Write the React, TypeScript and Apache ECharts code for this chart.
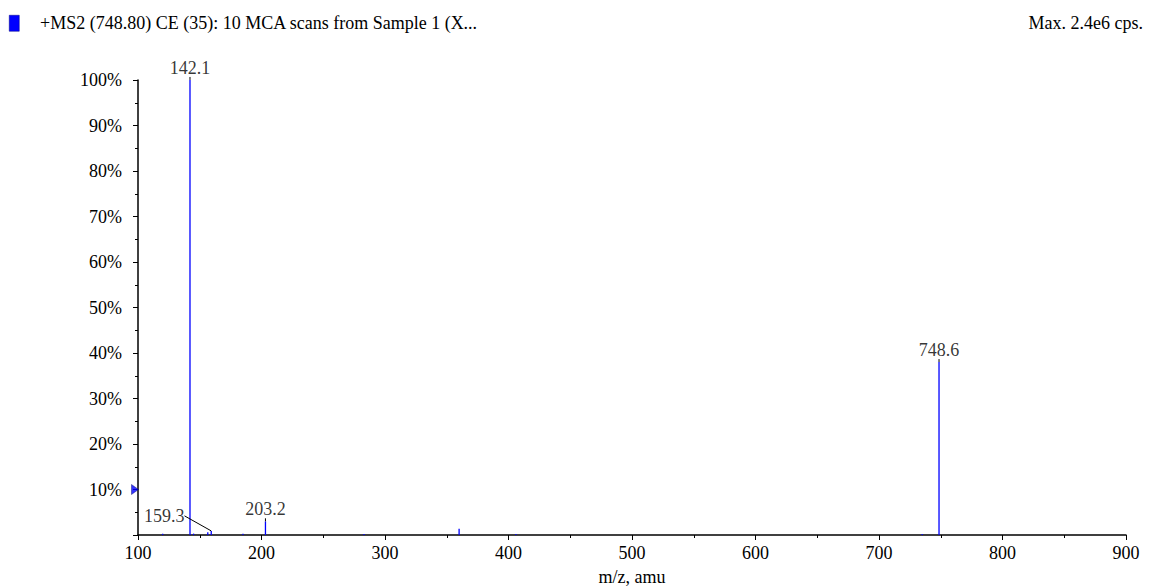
import React, { useEffect, useRef } from "react";
import * as echarts from "echarts";

const titleText = "+MS2 (748.80) CE (35): 10 MCA scans from Sample 1 (X...";
const maxText = "Max. 2.4e6 cps.";
const xAxisName = "m/z, amu";

const peakMz = [120.0, 142.1, 145.0, 156.5, 159.3, 185.0, 203.2, 283.0, 360.0, 406.0, 735.0, 748.6];
const peakIntensity = [0.3, 100, 0.3, 0.6, 0.9, 0.3, 3.0, 0.2, 1.4, 0.2, 0.2, 38.0];

const labelMz = [142.1, 159.3, 203.2, 748.6];
const labelIntensity = [100, 0.9, 3.0, 38.0];

const FONT = "'Liberation Serif', 'Times New Roman', serif";
const FS = 18;

export default function App() {
  const ref = useRef<HTMLDivElement>(null);
  useEffect(() => {
    document.body.style.margin = "0";
    const chart = echarts.init(ref.current!, undefined, { renderer: "svg" });
    const peaks = peakMz.map((m, i) => [m, peakIntensity[i]]);
    const labels = labelMz.map((m, i) => [m, labelIntensity[i]]);
    chart.setOption({
      animation: false,
      backgroundColor: "#ffffff",
      textStyle: { fontFamily: FONT },
      grid: { left: 138, right: 27, top: 80, bottom: 52, outerBoundsMode: "none", containLabel: false },
      xAxis: {
        type: "value",
        min: 100,
        max: 900,
        interval: 100,
        name: xAxisName,
        nameLocation: "middle",
        nameGap: 33,
        nameTextStyle: { color: "#000", fontSize: FS, fontFamily: FONT },
        axisLine: { lineStyle: { color: "#000", width: 1.5 } },
        axisTick: { show: true, length: 5, lineStyle: { color: "#000" } },
        minorTick: { show: true, splitNumber: 2, length: 3, lineStyle: { color: "#000" } },
        axisLabel: { color: "#000", fontSize: FS, fontFamily: FONT, margin: 9 },
        splitLine: { show: false },
      },
      yAxis: {
        type: "value",
        min: 0,
        max: 100,
        interval: 10,
        axisLine: { show: true, lineStyle: { color: "#000", width: 1.5 } },
        axisTick: { show: true, length: 5, lineStyle: { color: "#000" } },
        minorTick: { show: true, splitNumber: 2, length: 3, lineStyle: { color: "#000" } },
        axisLabel: {
          color: "#000",
          fontSize: FS,
          fontFamily: FONT,
          margin: 16,
          formatter: (v: number) => (v === 0 ? "" : v + "%"),
        },
        splitLine: { show: false },
      },
      series: [
        {
          type: "custom",
          data: peaks,
          clip: true,
          renderItem: (params: any, api: any) => {
            const x = api.value(0);
            const y = api.value(1);
            const p0 = api.coord([x, 0]);
            const p1 = api.coord([x, y]);
            return {
              type: "line",
              shape: { x1: p0[0], y1: p0[1], x2: p1[0], y2: p1[1] },
              style: { stroke: "#0000ff", lineWidth: 1.3 },
            };
          },
          z: 3,
        },
        {
          type: "scatter",
          data: labels,
          symbolSize: 0.1,
          itemStyle: { color: "transparent" },
          label: {
            show: true,
            position: "top",
            distance: 3,
            color: "#000",
            fontSize: FS,
            fontFamily: FONT,
            formatter: (p: any) => p.value[0].toFixed(1),
          },
          labelLayout: (p: any) => (p.dataIndex === 1 ? { dx: -47, dy: -3 } : {}),
          labelLine: { show: true, length2: 0, lineStyle: { color: "#000", width: 1 } },
          z: 4,
        },
        {
          type: "scatter",
          data: [[100, 10]],
          symbol: "triangle",
          symbolRotate: -90,
          symbolSize: [10, 7],
          symbolOffset: [-3, 0],
          itemStyle: { color: "#0000ff", borderColor: "#000060", borderWidth: 0.5 },
          z: 5,
        },
      ],
      graphic: [
        {
          type: "rect",
          left: 9,
          top: 15,
          shape: { width: 10, height: 16 },
          style: { fill: "#0000ff", stroke: "#000080", lineWidth: 0.5 },
        },
        {
          type: "text",
          left: 40,
          top: 14,
          style: { text: titleText, fill: "#000", font: `${FS}px ${FONT}` },
        },
        {
          type: "text",
          right: 10,
          top: 14,
          style: { text: maxText, fill: "#000", font: `${FS}px ${FONT}` },
        },
      ],
    });
    return () => chart.dispose();
  }, []);
  return <div ref={ref} style={{ position: "absolute", left: 0, top: 0, width: 1153, height: 587 }} />;
}
